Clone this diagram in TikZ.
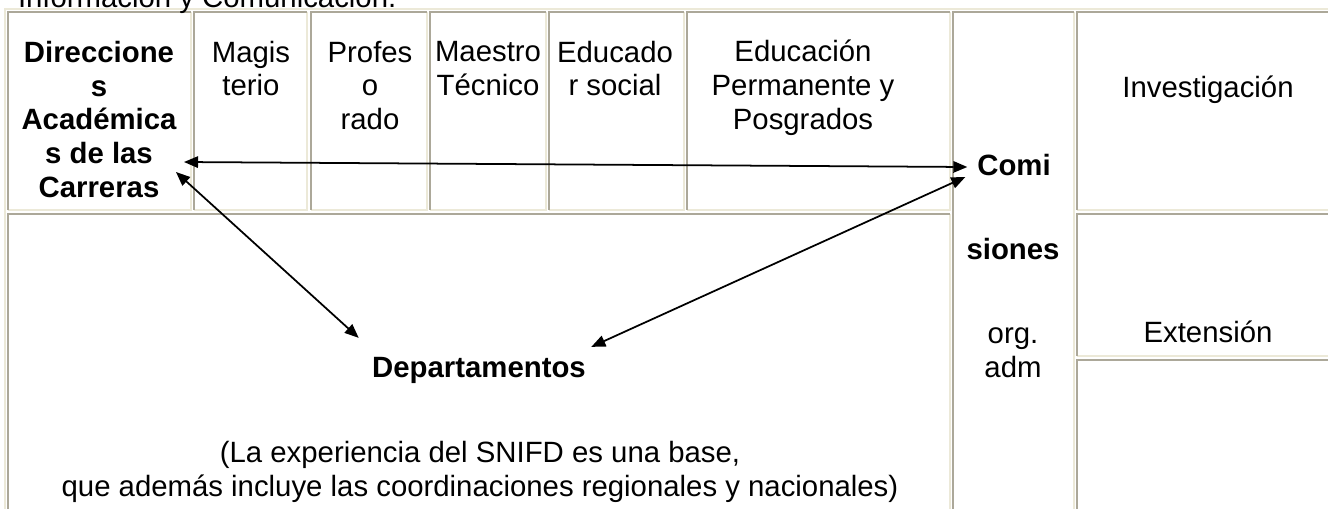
\documentclass[tikz,border=0pt]{standalone}
\usepackage{fontspec}
\setmainfont{Liberation Sans}
\usetikzlibrary{arrows.meta}
\tikzset{>={Triangle[length=8pt,width=6.5pt]}}
\definecolor{rimDark}{RGB}{172,168,153}
\definecolor{rimLight}{RGB}{236,233,216}
\newcommand{\cellfont}{\fontsize{16.7}{19.3}\selectfont}
% one table cell: dark rim top/left, light rim bottom/right
\newcommand{\tcell}[4]{%
  \draw [rimLight] (#3,#2) -- (#3,#4) -- (#1,#4);
  \draw [rimDark] (#1,#4) -- (#1,#2) -- (#3,#2);}

\begin{document}
\begin{tikzpicture}[x=0.02cm,y=-0.02cm,line width=1pt,
    every node/.style={font=\cellfont,inner sep=0pt,outer sep=0pt,align=center}]
  \useasboundingbox (0,0) rectangle (1328,508);
  \clip (0,0) rectangle (1328,508);
  % outer frame of the table
  \draw [rimLight] (5,530) -- (5,9) -- (1340,9);
  % top row
  \tcell{8}{12}{191}{210}
  \tcell{194}{12}{307}{210}
  \tcell{311}{12}{427}{210}
  \tcell{430}{12}{546}{210}
  \tcell{549}{12}{684}{210}
  \tcell{687}{12}{950}{210}
  % right columns
  \tcell{953}{12}{1074}{530}
  \tcell{1077}{12}{1340}{210}
  \tcell{1077}{214}{1340}{356}
  \tcell{1077}{360}{1340}{530}
  % lower block
  \tcell{8}{214}{950}{530}

  \node [anchor=base west] (info) at (18,7) {Información y Comunicación.};
  \node [font=\cellfont\bfseries] (dir) at (99,119.5) {Direccione\\s\\Académica\\s de las\\Carreras};
  \node (magis) at (251,68.5) {Magis\\terio};
  \node (profes) at (370,85.5) {Profes\\o\\rado};
  \node (maestro) at (488,68.5) {Maestro\\Técnico};
  \node (educado) at (615,68.5) {Educado\\r social};
  \node (perm) at (803,88) {Educación\\Permanente y\\Posgrados};
  \node (invest) at (1208,90) {Investigación};
  \node [font=\cellfont\bfseries] (comi) at (1014,165) {Comi};
  \node [font=\cellfont\bfseries] (siones) at (1013,249.5) {siones};
  \node (orgadm) at (1013,353) {org.\\adm};
  \node (ext) at (1208,332) {Extensión};
  \node [font=\cellfont\bfseries] (dep) at (479,370) {Departamentos};
  \node (snifd) at (480,471.5) {(La experiencia del SNIFD es una base,\\que además incluye las coordinaciones regionales y nacionales)};

  \draw [<->] ([shift={(7.5,42.5)}]dir.east) -- ([shift={(-10,2)}]comi.west);
  \draw [<->] ([shift={(-0.5,52.5)}]dir.east) -- ([shift={(-13.5,-19)}]dep.north west);
  \draw [<->] ([shift={(-12,12)}]comi.west) -- ([shift={(5.5,-10)}]dep.north east);
\end{tikzpicture}
\end{document}
